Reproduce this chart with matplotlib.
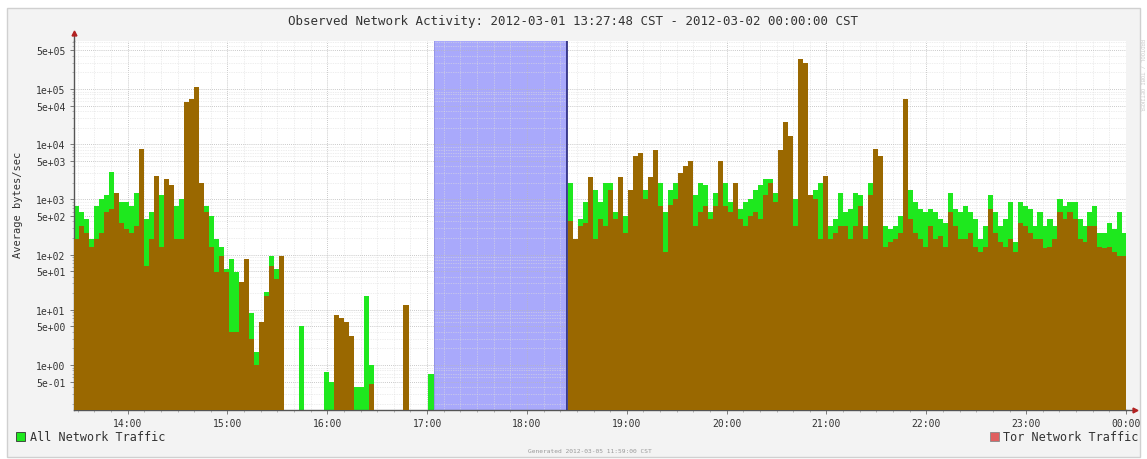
import numpy as np
import matplotlib.pyplot as plt
import matplotlib.dates as mdates
from matplotlib.ticker import FixedLocator, LogLocator, NullFormatter
from matplotlib.patches import Rectangle
from datetime import datetime, timedelta

nan = np.nan

# --- data (3-minute averages, bytes/sec) ---
start = datetime(2012, 3, 1, 13, 27, 48)
end = datetime(2012, 3, 2, 0, 0, 0)
bin_minutes = 3

all_traffic = [
    # 13:28 - 15:31
    7.7e2, 5.8e2, 4.4e2, 1.9e2, 7.7e2, 1.0e3, 1.2e3, 3.1e3, 1.0e3, 8.9e2,
    8.9e2, 7.7e2, 1.3e3, 2.0e3, 4.4e2, 5.8e2, 7.7e2, 1.2e3, 2.0e3, 5.8e2,
    7.7e2, 1.0e3, 5.7e4, 6.6e4, 1.1e5, 2.0e3, 7.7e2, 5.1e2, 1.9e2, 1.4e2,
    55, 83, 48, 8.9, 8.9, 8.9, 1.7, 5.9, 21, 96, 55, 96,
    # sparse 15:34 - 17:04
    nan, nan, nan, 5.1, nan, nan, nan, nan, 0.74, 0.5,
    8.0, 3.4, 3.4, 3.4, 0.4, 0.4, 18, 1.0, nan, nan,
    nan, nan, nan, nan, 0.74, nan, nan, nan, nan, 0.7,
    # no data
    nan, nan, nan, nan, nan, nan, nan, nan, nan, nan,
    nan, nan, nan, nan, nan, nan, nan, nan, nan, nan,
    nan, nan, nan, nan, nan, nan, nan,
    # 18:25 - 21:13
    2.0e3, 1.9e2, 4.4e2, 8.9e2, 1.5e3, 1.5e3, 8.9e2, 2.0e3, 2.0e3, 5.8e2,
    2.5e3, 5.1e2, 1.0e3, 1.5e3, 1.5e3, 1.5e3, 2.5e3, 1.0e3, 2.0e3, 5.8e2,
    1.5e3, 2.0e3, 3.0e3, 4.1e3, 1.8e3, 1.2e3, 2.0e3, 1.8e3, 5.8e2, 1.3e3,
    5.0e3, 2.0e3, 8.9e2, 2.0e3, 6.7e2, 8.9e2, 1.0e3, 1.5e3, 1.8e3, 2.3e3,
    2.3e3, 1.3e3, 2.7e3, 2.5e4, 1.4e4, 1.0e3, 3.5e5, 3.0e5, 1.2e3, 1.5e3,
    2.0e3, 2.0e3, 3.3e2, 4.4e2, 1.3e3, 5.8e2,
    # 21:16 - 00:00
    6.7e2, 1.3e3, 1.2e3, 3.3e2, 2.0e3, 8.1e3, 6.2e3, 3.3e2, 2.9e2, 3.3e2,
    5.1e2, 5.8e2, 1.5e3, 8.9e2, 6.7e2, 5.8e2, 6.7e2, 5.8e2, 4.4e2, 3.8e2,
    1.3e3, 6.7e2, 5.8e2, 7.7e2, 5.8e2, 4.4e2, 1.9e2, 3.3e2, 1.2e3, 5.8e2,
    3.3e2, 4.4e2, 8.9e2, 1.7e2, 8.9e2, 7.7e2, 6.7e2, 3.3e2, 5.8e2, 3.3e2,
    4.4e2, 3.3e2, 1.0e3, 7.7e2, 8.9e2, 8.9e2, 4.4e2, 3.3e2, 5.8e2, 7.7e2,
    2.5e2, 2.5e2, 3.8e2, 2.9e2, 5.8e2, 2.5e2,
]

tor_traffic = [
    1.9e2, 3.3e2, 2.5e2, 1.4e2, 1.9e2, 2.5e2, 5.8e2, 6.7e2, 1.3e3, 3.8e2,
    2.9e2, 2.5e2, 3.3e2, 8.1e3, 63, 1.9e2, 2.7e3, 1.4e2, 2.3e3, 1.8e3,
    1.9e2, 1.9e2, 5.7e4, 6.6e4, 1.1e5, 2.0e3, 5.8e2, 1.4e2, 48, 96,
    48, 3.9, 3.9, 32, 83, 3.0, 1.0, 5.9, 18, 63, 36, 96,
    nan, nan, nan, nan, nan, nan, nan, nan, nan, nan,
    8.0, 7.0, 6.0, 3.4, nan, nan, nan, 0.45, nan, nan,
    nan, nan, nan, nan, 12, nan, nan, nan, nan, nan,
    nan, nan, nan, nan, nan, nan, nan, nan, nan, nan,
    nan, nan, nan, nan, nan, nan, nan, nan, nan, nan,
    nan, nan, nan, nan, nan, nan, nan,
    4.1e2, 1.9e2, 3.3e2, 3.8e2, 2.5e3, 1.9e2, 4.4e2, 3.3e2, 1.5e3, 4.4e2,
    2.5e3, 2.5e2, 1.5e3, 6.0e3, 7.0e3, 1.0e3, 2.5e3, 8.0e3, 7.7e2, 1.1e2,
    8.0e2, 1.0e3, 3.0e3, 4.1e3, 5.0e3, 3.3e2, 5.8e2, 7.7e2, 4.4e2, 7.7e2,
    5.0e3, 7.7e2, 5.8e2, 2.0e3, 4.4e2, 3.3e2, 5.1e2, 5.8e2, 4.4e2, 1.2e3,
    2.0e3, 8.9e2, 8.0e3, 2.5e4, 1.4e4, 3.3e2, 3.5e5, 3.0e5, 1.2e3, 1.0e3,
    1.9e2, 2.7e3, 1.9e2, 2.5e2, 3.3e2, 3.3e2,
    1.9e2, 3.3e2, 7.7e2, 1.9e2, 1.2e3, 8.1e3, 6.2e3, 1.4e2, 1.7e2, 1.9e2,
    2.5e2, 6.6e4, 4.4e2, 2.5e2, 1.9e2, 1.4e2, 3.3e2, 1.9e2, 2.2e2, 1.4e2,
    5.8e2, 3.3e2, 1.9e2, 1.9e2, 2.5e2, 1.4e2, 1.1e2, 1.4e2, 6.7e2, 2.5e2,
    1.7e2, 1.4e2, 1.9e2, 1.1e2, 3.8e2, 3.3e2, 2.5e2, 1.9e2, 1.9e2, 1.3e2,
    1.4e2, 1.9e2, 5.8e2, 4.4e2, 5.8e2, 4.4e2, 1.9e2, 1.7e2, 3.3e2, 3.3e2,
    1.4e2, 1.3e2, 1.4e2, 1.1e2, 96, 96,
]

no_data_span = [datetime(2012, 3, 1, 17, 4), datetime(2012, 3, 1, 18, 24)]
y_ticks = [5e-1, 1e0, 5e0, 1e1, 5e1, 1e2, 5e2, 1e3, 5e3, 1e4, 5e4, 1e5, 5e5]

title = "Observed Network Activity: 2012-03-01 13:27:48 CST - 2012-03-02 00:00:00 CST"

green = '#1ee81e'
brown = '#9a6800'
mono = 'DejaVu Sans Mono'

# --- figure ---
fig = plt.figure(figsize=(11.47, 4.6), dpi=100)
fig.patch.set_facecolor('white')
fig.patches.append(Rectangle((7 / 1147, 2 / 460), 1133 / 1147, 449 / 460,
                             transform=fig.transFigure, facecolor='#f3f3f3',
                             edgecolor='#d0d0d0', linewidth=1, zorder=-5))

ax = fig.add_axes([74 / 1147, 1 - 411 / 460, 1052 / 1147, 369 / 460])
ax.set_facecolor('white')

times = [start + timedelta(minutes=bin_minutes * i) for i in range(len(all_traffic))]
x = mdates.date2num(times)
w = bin_minutes / 1440 * 1.02
floor = 1e-2

g = np.array(all_traffic, dtype=float)
t = np.array(tor_traffic, dtype=float)
ax.bar(x, g - floor, width=w, bottom=floor, align='edge', color=green,
       linewidth=0, antialiased=False, zorder=2)
ax.bar(x, t - floor, width=w, bottom=floor, align='edge', color=brown,
       linewidth=0, antialiased=False, zorder=3)

# period without data
ax.axvspan(no_data_span[0], no_data_span[1], facecolor='#a9a9fb', edgecolor='none', zorder=1)
ax.axvline(no_data_span[1], color='#23237a', lw=1.2, zorder=4)
ax.axvline(no_data_span[0], color='#8c8ce0', lw=0.5, zorder=4)

ax.set_yscale('log')
ax.set_ylim(0.153, 7.4e5)
ax.set_xlim(start, end)

ax.yaxis.set_major_locator(FixedLocator(y_ticks))
ax.set_yticklabels(['%.0e' % v for v in y_ticks])
ax.yaxis.set_minor_locator(LogLocator(base=10, subs=(2, 3, 4, 6, 7, 8, 9)))
ax.yaxis.set_minor_formatter(NullFormatter())

ax.xaxis.set_major_locator(mdates.HourLocator())
ax.xaxis.set_major_formatter(mdates.DateFormatter('%H:%M'))
ax.xaxis.set_minor_locator(mdates.MinuteLocator(byminute=[10, 20, 30, 40, 50]))

ax.grid(which='major', color='#b8b8b8', linestyle=(0, (1, 1.5)), lw=0.6, zorder=1.5)
ax.grid(which='minor', color='#dedede', linestyle=(0, (1, 1.5)), lw=0.5, zorder=1.5)

for lab in ax.get_xticklabels() + ax.get_yticklabels():
    lab.set_family(mono)
    lab.set_fontsize(7)
    lab.set_color('#333333')
ax.tick_params(which='major', length=3, width=0.6, color='#666666', pad=3)
ax.tick_params(which='minor', length=1.5, width=0.5, color='#999999')

for s in ['top', 'right']:
    ax.spines[s].set_visible(False)
for s in ['left', 'bottom']:
    ax.spines[s].set_color('#555555')
    ax.spines[s].set_linewidth(1)

# axis arrows
ax.plot([0, 0], [1, 1.02], transform=ax.transAxes, color='#555555', lw=1, clip_on=False)
ax.plot([0], [1.022], transform=ax.transAxes, marker='^', ms=3.5, color='#b22222',
        clip_on=False, zorder=5)
ax.plot([1, 1.008], [0, 0], transform=ax.transAxes, color='#555555', lw=1, clip_on=False)
ax.plot([1.009], [0], transform=ax.transAxes, marker='>', ms=3.5, color='#b22222',
        clip_on=False, zorder=5)

# texts
fig.text(0.5, 1 - 22 / 460, title, ha='center', va='center', fontsize=9,
         family=mono, color='#333333')
fig.text(18 / 1147, 1 - 205 / 460, 'Average bytes/sec', rotation=90, ha='center',
         va='center', fontsize=7.5, family=mono, color='#333333')

fig.patches.append(Rectangle((16 / 1147, 1 - 442 / 460), 9 / 1147, 9 / 460,
                             transform=fig.transFigure, facecolor=green,
                             edgecolor='#333333', linewidth=0.6))
fig.text(30 / 1147, 1 - 437.5 / 460, 'All Network Traffic', ha='left', va='center',
         fontsize=8.5, family=mono, color='#333333')
fig.patches.append(Rectangle((990 / 1147, 1 - 442 / 460), 9 / 1147, 9 / 460,
                             transform=fig.transFigure, facecolor='#e06060',
                             edgecolor='#888888', linewidth=0.6))
fig.text(1138 / 1147, 1 - 437.5 / 460, 'Tor Network Traffic', ha='right', va='center',
         fontsize=8.5, family=mono, color='#333333')
fig.text(590 / 1147, 1 - 452 / 460, 'Generated 2012-03-05 11:59:00 CST', ha='center',
         va='center', fontsize=4.5, family=mono, color='#999999')
fig.text(1142 / 1147, 1 - 75 / 460, 'RRDTOOL / TOBI OETIKER', rotation=270, ha='center',
         va='center', fontsize=4, family=mono, color='#cccccc')

fig.savefig('out.png', dpi=100)
